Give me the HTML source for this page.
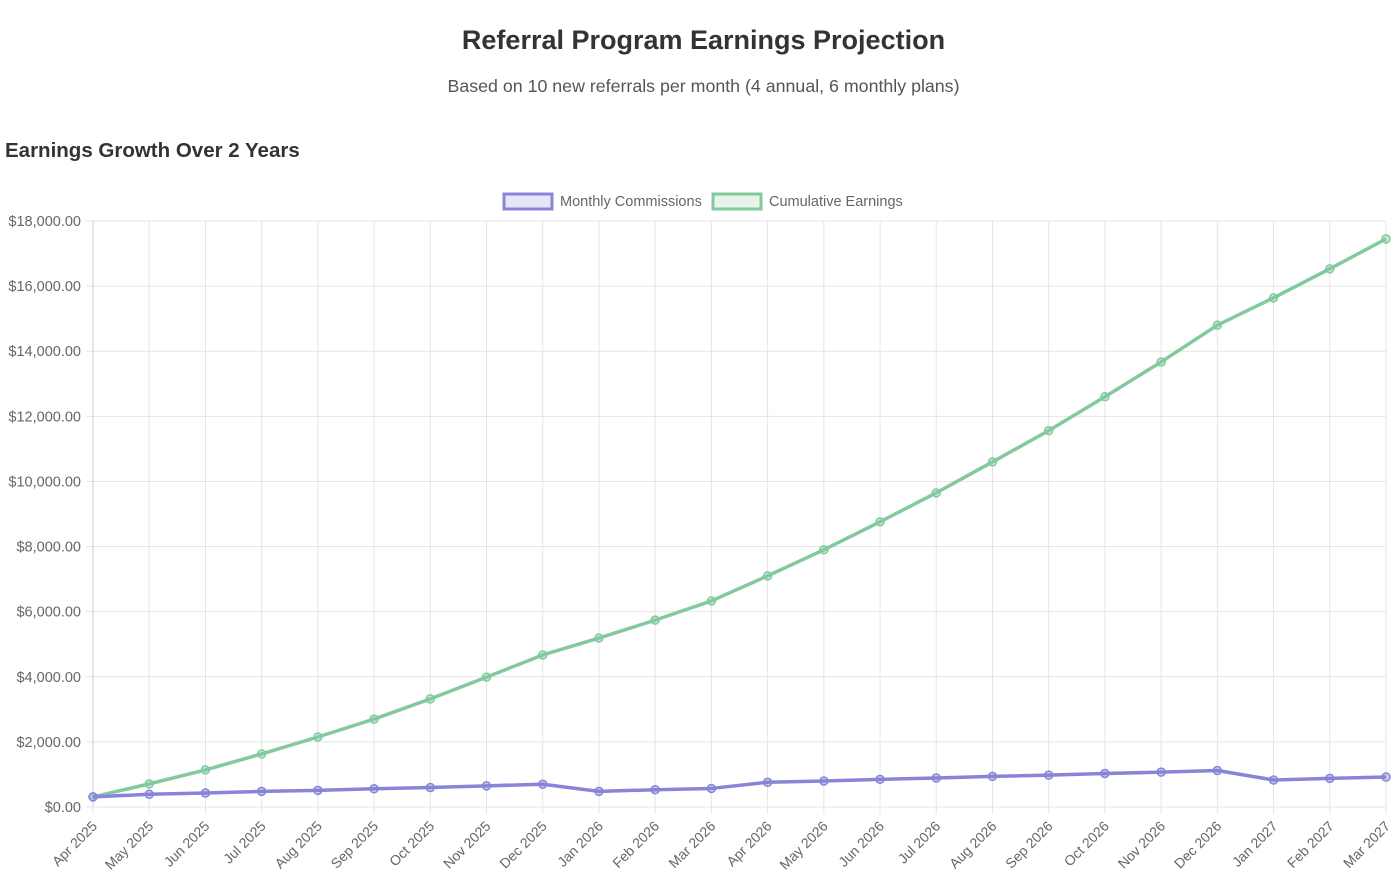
<!DOCTYPE html>
<html><head><meta charset="utf-8"><style>
body{margin:0;width:1400px;height:893px;background:#fff;font-family:"Liberation Sans",sans-serif;overflow:hidden}
h1{position:absolute;top:25px;left:0;width:1407px;text-align:center;margin:0;font-size:27px;font-weight:bold;color:#333}
.sub{position:absolute;top:76px;left:0;width:1407px;text-align:center;font-size:17.8px;color:#555}
h2{position:absolute;top:139px;left:5px;margin:0;font-size:20.5px;font-weight:bold;color:#333}
svg{position:absolute;left:0;top:0}
</style></head><body>
<h1>Referral Program Earnings Projection</h1>
<div class="sub">Based on 10 new referrals per month (4 annual, 6 monthly plans)</div>
<h2>Earnings Growth Over 2 Years</h2>
<svg id="chart" width="1400" height="893">
<g>
<rect x="504" y="194" width="48" height="15" fill="rgba(136,132,216,0.2)" stroke="#8884d8" stroke-width="3"/>
<text x="560" y="206" font-size="14.5" fill="#666">Monthly Commissions</text>
<rect x="713" y="194" width="48" height="15" fill="rgba(130,202,157,0.2)" stroke="#82ca9d" stroke-width="3"/>
<text x="769" y="206" font-size="14.5" fill="#666">Cumulative Earnings</text>
</g>
</svg>
<script>
const categories=["Apr 2025","May 2025","Jun 2025","Jul 2025","Aug 2025","Sep 2025","Oct 2025","Nov 2025","Dec 2025","Jan 2026","Feb 2026","Mar 2026","Apr 2026","May 2026","Jun 2026","Jul 2026","Aug 2026","Sep 2026","Oct 2026","Nov 2026","Dec 2026","Jan 2027","Feb 2027","Mar 2027"];
const monthly=[310,390,430,480,510,560,600,650,700,480,530,570,760,800,850,890,940,980,1030,1070,1120,830,880,920];
const cumulative=[310,710,1140,1630,2150,2700,3320,3990,4670,5190,5740,6330,7100,7900,8760,9650,10600,11560,12600,13670,14800,15640,16530,17450];
const yTicks=[0,2000,4000,6000,8000,10000,12000,14000,16000,18000];
const svg=document.getElementById('chart');
const NS='http://www.w3.org/2000/svg';
const L=93,R=1386,T=221,B=807,YMAX=18000;
const x=i=>L+i*(R-L)/(categories.length-1);
const y=v=>B-v/YMAX*(B-T);
function mk(t,a){const e=document.createElementNS(NS,t);for(const k in a)e.setAttribute(k,a[k]);svg.appendChild(e);return e;}
yTicks.forEach(v=>{
 const g=mk('line',{x1:L-7,x2:R,y1:y(v),y2:y(v),stroke:'#e5e5e5','stroke-width':1});
 
 
 const t=mk('text',{x:L-12,y:y(v)+5,'text-anchor':'end','font-size':14.5,fill:'#666'});
 t.textContent='$'+v.toLocaleString('en-US',{minimumFractionDigits:2});
 
 
});
categories.forEach((c,i)=>{
 const g=mk('line',{x1:x(i),x2:x(i),y1:T,y2:B+7,stroke:'#e5e5e5','stroke-width':1});
 
 
 const tx=x(i)+5,ty=B+20;
 const t=mk('text',{x:tx,y:ty,'text-anchor':'end','font-size':14,fill:'#666',transform:`rotate(-45 ${tx} ${ty})`});
 t.textContent=c;
 
 
});
const ax=mk('line',{x1:L,x2:L,y1:T,y2:B,stroke:'#ccc'});


function series(vals,color,name){
 const p=mk('polyline',{points:vals.map((v,i)=>x(i)+','+y(v)).join(' '),fill:'none',stroke:color,'stroke-width':3.5,'stroke-linejoin':'round'});
 
 
 vals.forEach((v,i)=>{
  const c=mk('circle',{cx:x(i),cy:y(v),r:4,fill:color,'fill-opacity':0.4,stroke:color,'stroke-width':1.5});
  
  
 });
}
series(cumulative,'#82ca9d','cumulative-earnings');
series(monthly,'#8884d8','monthly-commissions');
</script>
</body></html>
